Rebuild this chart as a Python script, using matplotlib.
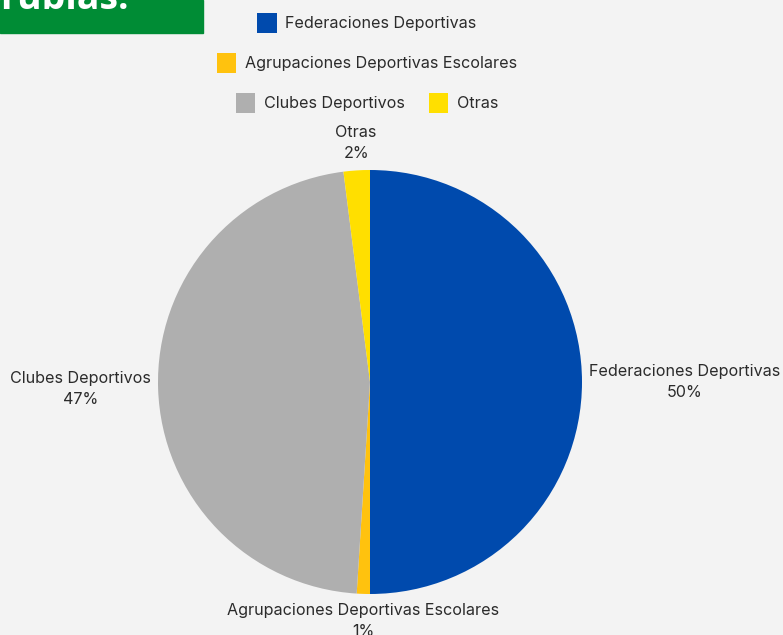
import matplotlib.pyplot as plt
import numpy as np

# Datos
categorias = ["Federaciones Deportivas", "Agrupaciones Deportivas Escolares",
              "Clubes Deportivos", "Otras"]
porcentajes = [50, 1, 47, 2]
colores = ["#004aad", "#ffc20e", "#afafaf", "#ffdf00"]

plt.rcParams["font.family"] = ["Inter", "DejaVu Sans"]

W, H = 783, 635
fig = plt.figure(figsize=(W / 100, H / 100), dpi=100, facecolor="#f3f3f3")

# Pie: center (370, 382), radius 212 px
cx, cy, R = 370, 382, 212
ax = fig.add_axes([(cx - R) / W, (H - cy - R) / H, 2 * R / W, 2 * R / H])
ax.set_facecolor("#f3f3f3")
wedges, _ = ax.pie(porcentajes, colors=colores, startangle=90, counterclock=False,
                   radius=1.0, wedgeprops=dict(linewidth=0))
ax.set_xlim(-1, 1)
ax.set_ylim(-1, 1)
ax.axis("off")

fs = 11.6

# Etiquetas
for w, cat, p in zip(wedges, categorias, porcentajes):
    ang = np.deg2rad((w.theta1 + w.theta2) / 2)
    c, s = np.cos(ang), np.sin(ang)
    if abs(c) > abs(s):
        r = 1.035
        ha = "left" if c > 0 else "right"
        va = "center"
    else:
        r = 1.045
        ha = "center"
        va = "bottom" if s > 0 else "top"
    ax.text(r * c, r * s, f"{cat}\n{p}%", ha=ha, va=va, multialignment="center",
            fontsize=fs, color="#2b2b2b", linespacing=1.45)

# Leyenda en tres filas
filas = [[0], [1], [2, 3]]
ys = [23, 63, 103]
for fila, y in zip(filas, ys):
    fig.legend([wedges[i] for i in fila], [categorias[i] for i in fila],
               loc="center", bbox_to_anchor=(367 / W, 1 - y / H), ncol=len(fila),
               frameon=False, fontsize=fs, handlelength=1.2, handleheight=1.53,
               handletextpad=0.55, columnspacing=1.5, borderpad=0, labelcolor="#2b2b2b")

# Recuadro verde recortado arriba a la izquierda
fig.patches.append(plt.Rectangle((0, 1 - 33 / H), 203 / W, 33 / H,
                                 transform=fig.transFigure, color="#008c35", zorder=0))
fig.text(0, 1 - 9 / H, "rubias.", fontsize=27, fontweight="bold", color="white",
         family="Open Sans", ha="left", va="baseline")

fig.savefig("out.png", dpi=100, facecolor=fig.get_facecolor())
